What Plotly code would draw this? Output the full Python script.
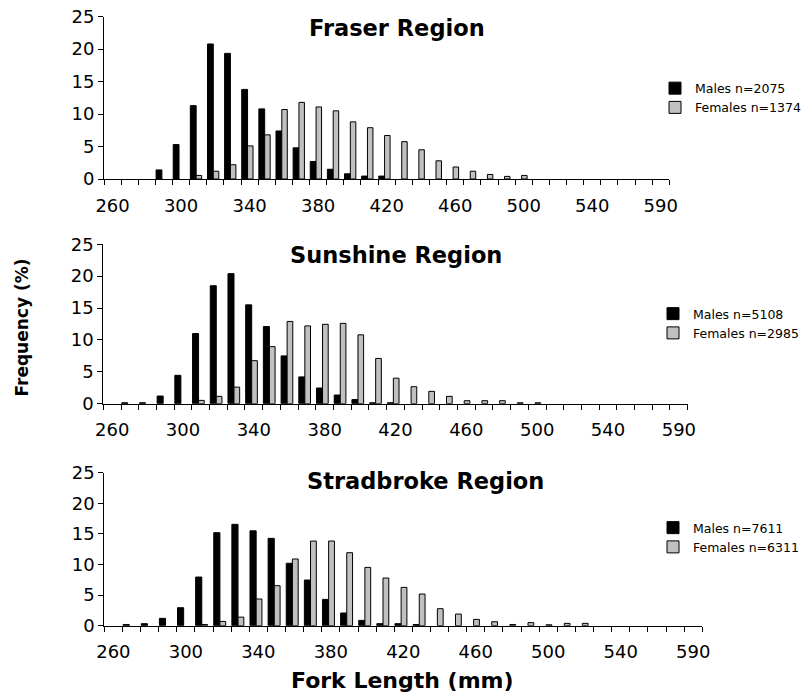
import plotly.graph_objects as go

# ---------------- data ----------------
fork_length = [260, 270, 280, 290, 300, 310, 320, 330, 340, 350, 360, 370, 380,
               390, 400, 410, 420, 430, 440, 450, 460, 470, 480, 490, 500, 510,
               520, 530, 540, 550, 560, 570, 580]
tick_labels = ["260", "300", "340", "380", "420", "460", "500", "540", "590"]
tick_positions = fork_length[::4]
y_ticks = [0, 5, 10, 15, 20, 25]

region_titles = ["Fraser Region", "Sunshine Region", "Stradbroke Region"]
male_names = ["Males n=2075", "Males n=5108", "Males n=7611"]
female_names = ["Females n=1374", "Females n=2985", "Females n=6311"]

fraser_males = [0, 0, 0, 1.4, 5.3, 11.3, 20.8, 19.35, 13.8, 10.8, 7.4, 4.8, 2.7,
                1.5, 0.8, 0.45, 0.45, 0, 0, 0, 0, 0, 0, 0, 0, 0,
                0, 0, 0, 0, 0, 0, 0]
fraser_females = [0, 0, 0, 0, 0, 0.55, 1.2, 2.2, 5.1, 6.8, 10.7, 11.8, 11.1,
                  10.5, 8.8, 7.9, 6.7, 5.75, 4.5, 2.8, 1.85, 1.2, 0.7, 0.4, 0.55, 0,
                  0, 0, 0, 0, 0, 0, 0]
sunshine_males = [0, 0.15, 0.15, 1.2, 4.45, 11.0, 18.5, 20.4, 15.5, 12.1, 7.5, 4.2, 2.46,
                  1.36, 0.65, 0.15, 0.15, 0, 0, 0, 0, 0, 0, 0, 0, 0,
                  0, 0, 0, 0, 0, 0, 0]
sunshine_females = [0, 0, 0, 0, 0, 0.52, 1.15, 2.6, 6.75, 8.95, 12.9, 12.2, 12.45,
                    12.6, 10.8, 7.1, 4.0, 2.67, 1.94, 1.15, 0.47, 0.47, 0.47, 0.15, 0.15, 0,
                    0, 0, 0, 0, 0, 0, 0]
stradbroke_males = [0, 0.2, 0.33, 1.2, 2.94, 7.95, 15.2, 16.56, 15.5, 14.27, 10.2, 7.46, 4.3,
                    2.07, 0.87, 0.33, 0.33, 0.2, 0, 0, 0, 0, 0, 0, 0, 0,
                    0, 0, 0, 0, 0, 0, 0]
stradbroke_females = [0, 0, 0, 0, 0, 0.2, 0.7, 1.4, 4.36, 6.54, 10.9, 13.83, 13.83,
                      11.93, 9.53, 7.79, 6.26, 5.17, 2.78, 1.9, 1.03, 0.65, 0.2, 0.5, 0.15, 0.38,
                      0.38, 0, 0, 0, 0, 0, 0]

males = [fraser_males, sunshine_males, stradbroke_males]
females = [fraser_females, sunshine_females, stradbroke_females]

# ---------------- layout geometry (pixels) ----------------
W, H = 806, 692
FONT = "DejaVu Sans"
# (left, right, top, bottom) of each plot area in pixels
panels = [(104.0, 669.3, 16.7, 179.0),
          (103.3, 687.7, 244.3, 403.7),
          (104.3, 702.3, 472.7, 625.7)]
title_pos = [(396.5, 28), (396.0, 255), (425.8, 481)]
legend_mid = [98, 323.5, 537.5]
legend_left = [655, 653, 653]


def px(x):
    return x / W


def py(y):
    return 1 - y / H


fig = go.Figure()
layout = dict(
    width=W, height=H, autosize=False,
    margin=dict(l=0, r=0, t=0, b=0, pad=0, autoexpand=False),
    paper_bgcolor="white", plot_bgcolor="white",
    barmode="overlay",
    showlegend=True,
    annotations=[],
)

for i in range(3):
    sfx = "" if i == 0 else str(i + 1)
    xa, ya = "x" + sfx, "y" + sfx
    leg = "legend" + sfx
    m = [v if v > 0 else None for v in males[i]]
    f = [v if v > 0 else None for v in females[i]]
    fig.add_trace(go.Bar(
        x=fork_length, y=m, name=male_names[i], xaxis=xa, yaxis=ya, legend=leg,
        offset=-4.6, width=3.4,
        marker=dict(color="black", line=dict(color="black", width=1)),
    ))
    fig.add_trace(go.Bar(
        x=fork_length, y=f, name=female_names[i], xaxis=xa, yaxis=ya, legend=leg,
        offset=-1.2, width=3.2,
        marker=dict(color="#C0C0C0", line=dict(color="black", width=1)),
    ))
    l, r, t, b = panels[i]
    layout["xaxis" + sfx] = dict(
        domain=[px(l), px(r)], anchor=ya, range=[255, 585],
        tickmode="array", tickvals=tick_positions, ticktext=tick_labels,
        ticks="outside", ticklen=10, tickcolor="rgba(0,0,0,0)",
        showline=True, linecolor="black", linewidth=1,
        showgrid=False, zeroline=False, automargin=False,
        tickfont=dict(family=FONT, size=18, color="black"),
        minor=dict(ticks="outside", ticklen=5, tickwidth=1, tickcolor="black",
                   tick0=255, dtick=10, showgrid=False),
    )
    layout["yaxis" + sfx] = dict(
        domain=[py(b), py(t)], anchor=xa, range=[0, 25],
        tickmode="array", tickvals=y_ticks,
        ticks="outside", ticklen=5, tickwidth=1, tickcolor="black",
        showline=True, linecolor="black", linewidth=1,
        showgrid=False, zeroline=False, automargin=False,
        tickfont=dict(family=FONT, size=18, color="black"),
    )
    layout[leg] = dict(
        x=px(legend_left[i]), xanchor="left",
        y=py(legend_mid[i]), yanchor="middle",
        bgcolor="rgba(0,0,0,0)", borderwidth=0,
        font=dict(family=FONT, size=12.5, color="black"),
        itemwidth=30, traceorder="normal",
    )
    tx, ty = title_pos[i]
    layout["annotations"].append(dict(
        text="<b>%s</b>" % region_titles[i], xref="paper", yref="paper",
        x=px(tx), y=py(ty), xanchor="center", yanchor="middle", showarrow=False,
        font=dict(family=FONT, size=22.5, color="black"),
    ))

layout["annotations"].append(dict(
    text="<b>Fork Length (mm)</b>", xref="paper", yref="paper",
    x=px(402.8), y=py(680), xanchor="center", yanchor="middle", showarrow=False,
    font=dict(family=FONT, size=22, color="black"),
))
layout["annotations"].append(dict(
    text="<b>Frequency (%)</b>", xref="paper", yref="paper",
    x=px(21), y=py(327.5), xanchor="center", yanchor="middle", showarrow=False,
    textangle=-90,
    font=dict(family=FONT, size=17, color="black"),
))

fig.update_layout(**layout)
fig.write_html("out.html")
